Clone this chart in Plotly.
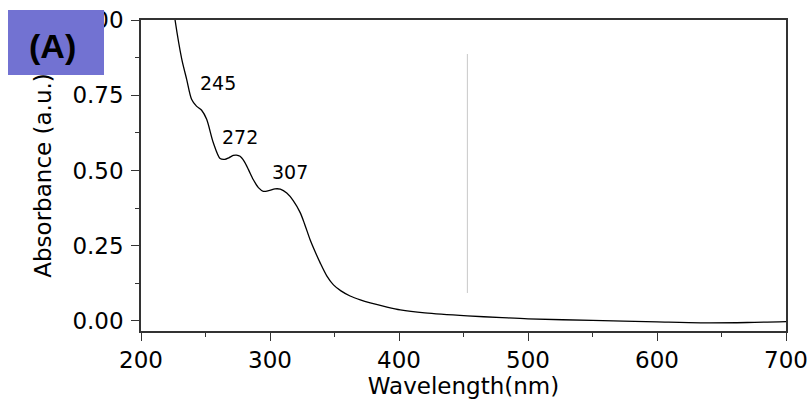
import plotly.graph_objects as go

wavelength = [224, 226.4, 231.6, 235.4, 239.2, 243, 247, 250.9, 256, 261.3, 265, 268, 271.5, 274, 276.8,
              280, 283.3, 287, 291, 294.8, 299, 303.9, 308, 313, 318, 323.4, 327, 331.1, 335, 338.9,
              344, 349.2, 355, 362.1, 370, 377.7, 390, 401, 420, 453, 480, 500, 550, 600, 634, 670, 700]
absorbance = [1.08, 1.0, 0.87, 0.803, 0.737, 0.714, 0.700, 0.67, 0.593, 0.540, 0.537, 0.542, 0.550, 0.551, 0.547,
              0.53, 0.503, 0.47, 0.443, 0.431, 0.433, 0.439, 0.438, 0.425, 0.40, 0.36, 0.32, 0.27, 0.23, 0.193,
              0.15, 0.12, 0.10, 0.083, 0.07, 0.06, 0.047, 0.037, 0.027, 0.017, 0.011, 0.007, 0.002, -0.003,
              -0.006, -0.005, -0.002]

peak_labels = ["245", "272", "307"]
peak_x = [259.7, 276.9, 315.5]
peak_y = [0.79, 0.612, 0.496]

y_ticks = [0, 0.25, 0.5, 0.75, 1.0]
x_ticks = [200, 300, 400, 500, 600, 700]
marker_x = 453
marker_y = [0.093, 0.887]

FONT = "DejaVu Sans, sans-serif"
BOLD_FONT = "Liberation Sans, Arial, sans-serif"

fig = go.Figure()
fig.add_trace(go.Scatter(x=wavelength, y=absorbance, mode="lines",
                         line=dict(color="black", width=1.3, shape="spline", smoothing=0.8),
                         showlegend=False, hoverinfo="skip"))
fig.add_trace(go.Scatter(x=[marker_x, marker_x], y=marker_y, mode="lines",
                         line=dict(color="#c8c8c8", width=1), showlegend=False, hoverinfo="skip"))

for t, px, py in zip(peak_labels, peak_x, peak_y):
    fig.add_annotation(x=px, y=py, text=t, showarrow=False,
                       font=dict(family=FONT, size=19, color="black"))

# label box (drawn as annotations so it covers the tick labels)
fig.add_annotation(xref="paper", yref="paper", x=-0.2062, y=1.032, xanchor="left", yanchor="top",
                   text=" ", showarrow=False, bgcolor="#7272d2", width=96, height=65,
                   borderpad=0, borderwidth=0, font=dict(size=10))
fig.add_annotation(xref="paper", yref="paper", x=-0.1372, y=0.916, xanchor="center", yanchor="middle",
                   text="<b>(A)</b>", showarrow=False,
                   font=dict(family=BOLD_FONT, size=34, color="black"))

axis_common = dict(showline=True, linecolor="#333333", linewidth=1.5, mirror=True,
                   ticks="outside", ticklen=8, tickwidth=1.3, tickcolor="#333333",
                   showgrid=False, zeroline=False, automargin=False,
                   tickfont=dict(family=FONT, size=23, color="black"))

fig.update_xaxes(range=[200, 700], tickvals=x_ticks, ticktext=[str(v) for v in x_ticks],
                 minor=dict(ticks="outside", ticklen=4, tickwidth=1.2, tickcolor="#333333", dtick=50, tick0=200),
                 title=dict(text="Wavelength(nm)", font=dict(family=FONT, size=23, color="black"), standoff=6),
                 **axis_common)
fig.update_yaxes(range=[-0.0333, 1.0], tickvals=y_ticks, ticktext=[f"{v:.2f}" for v in y_ticks],
                 minor=dict(ticks="outside", ticklen=4, tickwidth=1.2, tickcolor="#333333", dtick=0.125, tick0=0),
                 ticklabelstandoff=3,
                 title=dict(text="Absorbance (a.u.)", font=dict(family=FONT, size=23, color="black"), standoff=14),
                 **axis_common)

fig.update_layout(width=809, height=399, margin=dict(l=141, r=23, t=20, b=68),
                  plot_bgcolor="white", paper_bgcolor="white")

fig.write_html("out.html")
